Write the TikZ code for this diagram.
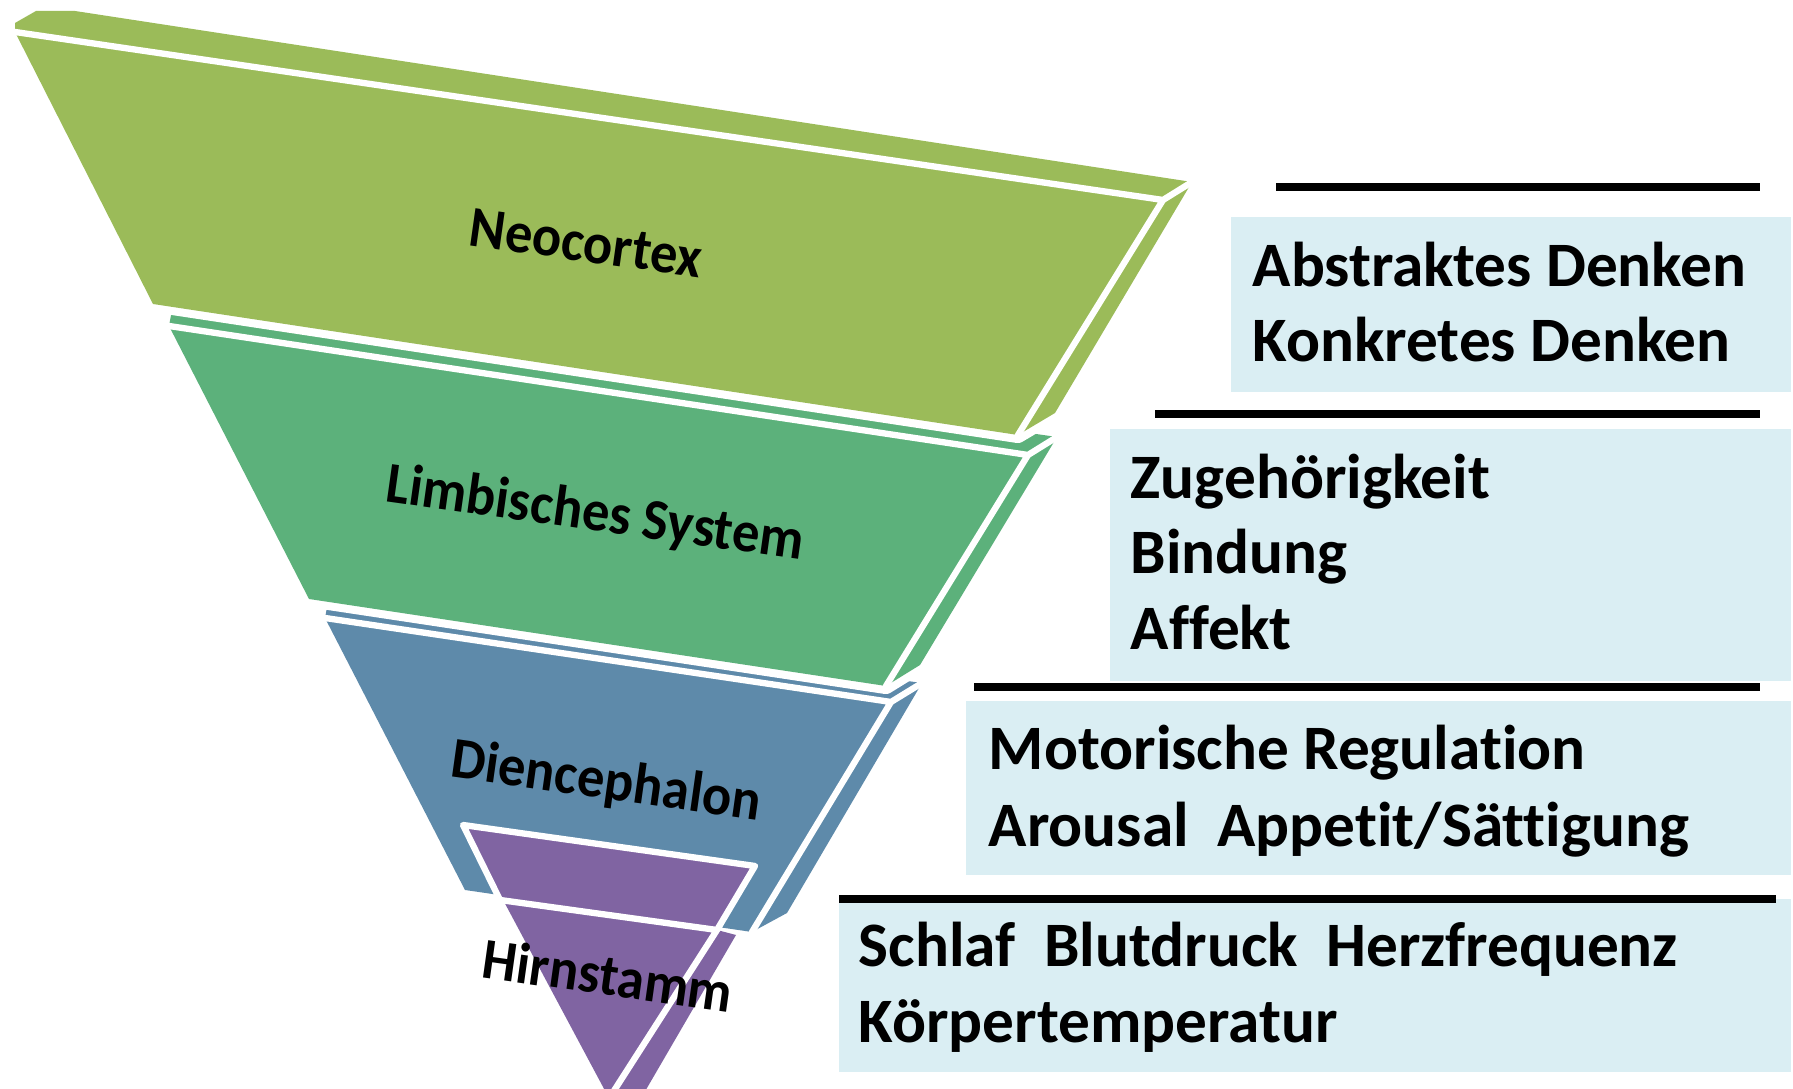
\documentclass[tikz,border=0pt]{standalone}
\usepackage{fontspec}
\setmainfont[Ligatures=NoCommon]{Carlito}
\usepackage{tikz}
\definecolor{neogreen}{HTML}{9BBB59}
\definecolor{limgreen}{HTML}{5CB17B}
\definecolor{dienblue}{HTML}{5E8AAA}
\definecolor{hirnpurple}{HTML}{8064A2}
\definecolor{boxblue}{HTML}{DAEEF3}

\begin{document}
\begin{tikzpicture}[x=0.01cm,y=-0.01cm,
  slab/.style={fill=#1,preaction={draw=white,line width=4.6pt,line join=round}},
  rim/.style={draw=white,line width=1.8pt,line cap=round,line join=round},
  layer/.style={font=\fontsize{16.5}{19}\selectfont\bfseries,rotate=-8,xscale=0.94,inner sep=0pt},
  item/.style={font=\fontsize{18}{21}\selectfont\bfseries,anchor=base west,inner sep=0pt},
  bar/.style={line width=2.3pt}]
\useasboundingbox (0,0) rectangle (1793,1089);

\path[slab=dienblue] (325,618) -- (328,602) -- (922,683) -- (787,913) -- (752,932) -- (465,890) -- cycle;
\draw[rim] (325,618) -- (891,702) -- (752,932) (891,702) -- (922,683);

\path[fill=hirnpurple] (463,825) -- (755,866) -- (717,930) -- (736,935) -- (640,1100) -- (610,1100) -- cycle;
\draw[rim] (463,825) -- (755,866) -- (717,930) -- (500,900) -- cycle (717,930) -- (610,1097);

\path[slab=limgreen] (169,326) -- (172,310) -- (1057,437) -- (920,665) -- (886,686) -- (309,599) -- cycle;
\draw[rim] (169,326) -- (1028,455) -- (886,686) (1028,455) -- (1057,437);

\path[slab=neogreen] (15,32) -- (15,23) -- (36,11) -- (75,11) -- (1192,182) -- (1055,413) -- (1018,435) -- (153,304) -- cycle;
\draw[rim] (15,32) -- (1163,200) -- (1018,435) (1163,200) -- (1192,182);

\node[layer] (neo) at (586,243) {Neocortex};
\node[layer] (limb) at (595,515) {Limbisches System};
\node[layer] (dien) at (606,783) {Diencephalon};
\node[layer] (hirn) at (608,975) {Hirnstamm};

\fill[boxblue] (1231,217) rectangle (1791,392);
\fill[boxblue] (1110,429) rectangle (1791,681);
\fill[boxblue] (966,701) rectangle (1791,875);
\fill[boxblue] (839,899) rectangle (1791,1072);

\draw[bar] (1276,187) -- (1760,187);
\draw[bar] (1155,414) -- (1760,414);
\draw[bar] (974,687) -- (1760,687);
\draw[bar] (839,899) -- (1776,899);

\node[item] (abs) at (1252,287) {Abstraktes Denken};
\node[item] (kon) at (1252,362) {Konkretes Denken};
\node[item] (zug) at (1130,499) {Zugehörigkeit};
\node[item] (bin) at (1130,574) {Bindung};
\node[item] (aff) at (1130,650) {Affekt};
\node[item] (mot) at (988,770) {Motorische Regulation};
\node[item] (aro) at (988,847) {Arousal\ \ Appetit/Sättigung};
\node[item] (sch) at (858,967) {Schlaf\ \ Blutdruck\ \ Herzfrequenz};
\node[item] (koe) at (858,1043) {Körpertemperatur};
\end{tikzpicture}
\end{document}
